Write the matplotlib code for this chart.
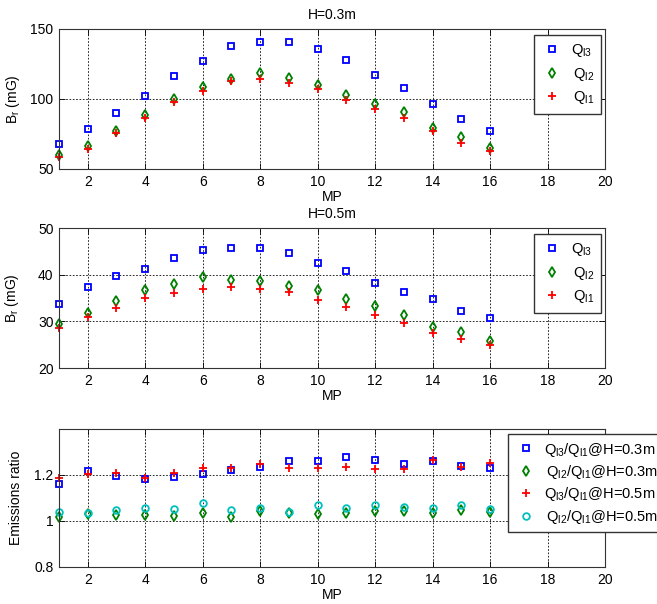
import numpy as np
import matplotlib.pyplot as plt

plt.rcParams['font.family'] = ['Liberation Sans', 'DejaVu Sans']
plt.rcParams['mathtext.default'] = 'regular'

mp = np.arange(1, 17)

# H = 0.3 m
q3_03 = [68, 78.7, 89.7, 102, 116.5, 126.8, 137.8, 140.4, 140.4, 135.4, 127.5, 117.2, 107.9, 96.7, 85.6, 77]
q2_03 = [60, 66.5, 77.3, 88.3, 100.2, 108.9, 114.4, 118.9, 115.3, 109.8, 103.1, 96.7, 90.4, 79.2, 72.7, 65.3]
q1_03 = [58.6, 64.4, 75.4, 86.6, 98.1, 106, 113.2, 114.4, 111.7, 106.9, 99.3, 92.6, 86.4, 76.8, 68.9, 63.2]

# H = 0.5 m
q3_05 = [33.8, 37.3, 39.7, 41.2, 43.6, 45.2, 45.8, 45.8, 44.6, 42.4, 40.8, 38.3, 36.2, 34.8, 32.3, 30.8]
q2_05 = [29.5, 31.8, 34.4, 36.7, 37.9, 39.4, 38.9, 38.7, 37.6, 36.8, 34.8, 33.3, 31.3, 28.8, 27.8, 25.8]
q1_05 = [28.5, 30.9, 32.8, 34.9, 36.1, 36.9, 37.3, 36.9, 36.3, 34.5, 33.1, 31.3, 29.6, 27.5, 26.2, 24.9]

# emission ratios
r31_03 = [1.162, 1.218, 1.197, 1.182, 1.191, 1.203, 1.221, 1.234, 1.26, 1.262, 1.278, 1.267, 1.247, 1.262, 1.241, 1.23]
r21_03 = [1.017, 1.031, 1.024, 1.026, 1.023, 1.033, 1.017, 1.043, 1.034, 1.03, 1.034, 1.043, 1.044, 1.035, 1.048, 1.04]
r31_05 = [1.186, 1.204, 1.209, 1.186, 1.21, 1.231, 1.231, 1.248, 1.231, 1.231, 1.235, 1.226, 1.226, 1.264, 1.235, 1.25]
r21_05 = [1.037, 1.034, 1.048, 1.058, 1.052, 1.077, 1.05, 1.055, 1.038, 1.068, 1.058, 1.068, 1.061, 1.055, 1.07, 1.052]

W, H = 657, 604
fig = plt.figure(figsize=(W / 100, H / 100), dpi=100)


def px_axes(left, top, right, bottom):
    return fig.add_axes([left / W, 1 - bottom / H, (right - left) / W, (bottom - top) / H])


ax1 = px_axes(59, 29, 605, 169)
ax2 = px_axes(59, 228, 605, 368)
ax3 = px_axes(59, 429, 605, 567)

sq = dict(marker='s', ls='none', mfc='none', mec='blue', mew=1.3, ms=4.6, clip_on=False)
dm = dict(marker='d', ls='none', mfc='none', mec='green', mew=1.3, ms=5.5, clip_on=False)
pl = dict(marker='+', ls='none', color='red', mew=1.3, ms=6, clip_on=False)
ci = dict(marker='o', ls='none', mfc='none', mec='c', mew=1.3, ms=4.8, clip_on=False)


def style(ax, ylim, yticks, ylabel, ylabelpad):
    ax.set_xlim(1, 20)
    ax.set_xticks(range(2, 21, 2))
    ax.set_ylim(*ylim)
    ax.set_yticks(yticks)
    ax.grid(True, ls=(0, (2, 2)), color='black', lw=0.6)
    ax.tick_params(direction='in', top=True, right=True, labelsize=10, length=4,
                   width=0.6, pad=4)
    for s in ax.spines.values():
        s.set_linewidth(0.8)
        s.set_color('#333333')
    ax.set_xlabel('MP', fontsize=10, labelpad=1)
    ax.set_ylabel(ylabel, fontsize=10, labelpad=ylabelpad)


legkw = dict(fancybox=False, edgecolor='#333333', framealpha=1, borderaxespad=0,
             fontsize=10.5)

ax1.plot(mp, q3_03, label='$Q_{l3}$', **sq)
ax1.plot(mp, q2_03, label=r'$\,Q_{l2}$', **dm)
ax1.plot(mp, q1_03, label=r'$\,Q_{l1}$', **pl)
style(ax1, (50, 150), [50, 100, 150], '$B_r$ (mG)', 6)
ax1.set_title('H=0.3m', fontsize=10, pad=7)
ax1.legend(loc='upper right', bbox_to_anchor=(0.993, 0.957), labelspacing=0.45,
           borderpad=0.5, handlelength=1.5, handletextpad=0.5, **legkw)

ax2.plot(mp, q3_05, label='$Q_{l3}$', **sq)
ax2.plot(mp, q2_05, label=r'$\,Q_{l2}$', **dm)
ax2.plot(mp, q1_05, label=r'$\,Q_{l1}$', **pl)
style(ax2, (20, 50), [20, 30, 40, 50], '$B_r$ (mG)', 12)
ax2.set_title('H=0.5m', fontsize=10, pad=7)
ax2.legend(loc='upper right', bbox_to_anchor=(0.993, 0.957), labelspacing=0.45,
           borderpad=0.5, handlelength=1.5, handletextpad=0.5, **legkw)

ax3.plot(mp, r31_03, label='$Q_{l3}/Q_{l1}$@H=0.3m', **sq)
ax3.plot(mp, r21_03, label=r'$\,Q_{l2}/Q_{l1}$@H=0.3m', **dm)
ax3.plot(mp, r31_05, label='$Q_{l3}/Q_{l1}$@H=0.5m', **pl)
ax3.plot(mp, r21_05, label=r'$\,Q_{l2}/Q_{l1}$@H=0.5m', **ci)
style(ax3, (0.8, 1.4), [0.8, 1.0, 1.2], 'Emissions ratio', 8)
ax3.set_yticklabels(['0.8', '1', '1.2'])
ax3.legend(loc='upper left', bbox_to_anchor=(0.822, 0.964), labelspacing=0.3,
           borderpad=0.45, handlelength=1.6, handletextpad=0.4, **legkw)

fig.savefig('out.png', dpi=100)
